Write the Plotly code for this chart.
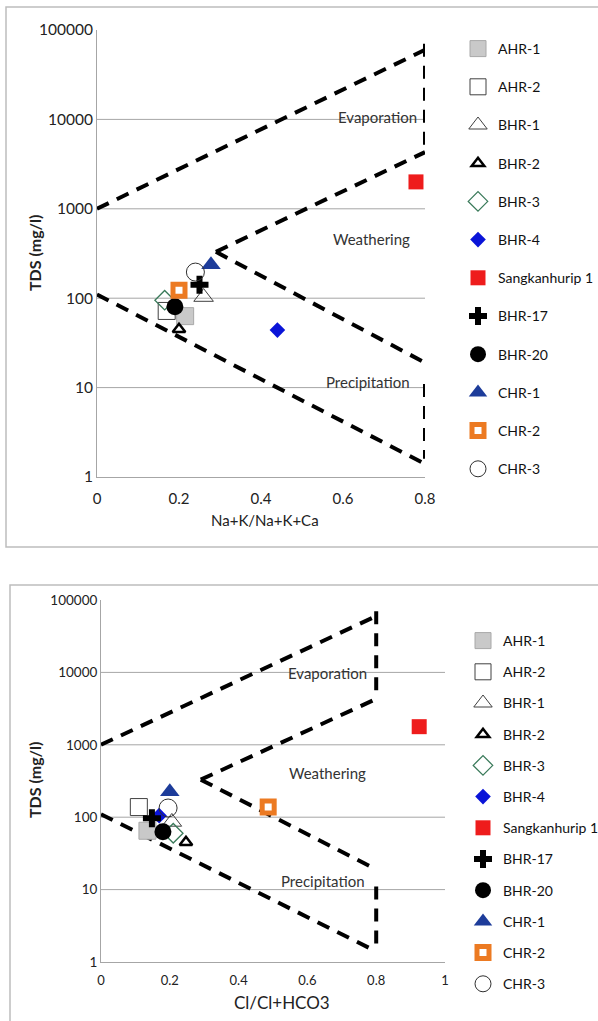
import math
import plotly.graph_objects as go

# ---------------- data ----------------
samples = ["AHR-1", "AHR-2", "BHR-1", "BHR-2", "BHR-3", "BHR-4",
           "Sangkanhurip 1", "BHR-17", "BHR-20", "CHR-1", "CHR-2", "CHR-3"]

# Top diagram: Na+K/(Na+K+Ca) vs TDS
cation_ratio = [0.215, 0.17, 0.26, 0.20, 0.165, 0.44, 0.778, 0.25, 0.19, 0.278, 0.20, 0.24]
tds_cation = [63, 72, 103, 45, 95, 44, 2000, 141, 80, 236, 123, 196]

# Bottom diagram: Cl/(Cl+HCO3) vs TDS
anion_ratio = [0.135, 0.11, 0.206, 0.247, 0.21, 0.169, 0.925, 0.148, 0.18, 0.20, 0.486, 0.195]
tds_anion = [65, 138, 86, 45, 60, 105, 1780, 97, 63, 224, 138, 134]

# Gibbs boundary segments (ratio, TDS)
evap_upper_x = [0.0, 0.8]
evap_upper_tds = [1000, 60000]
evap_right_x = [0.8, 0.8]
evap_right_tds = [70000, 5000]
weath_upper_x = [0.29, 0.8]
weath_upper_tds = [330, 4300]
weath_lower_x = [0.29, 0.8]
weath_lower_tds = [330, 19]
precip_lower_x = [0.0, 0.8]
precip_lower_tds = [110, 1.4]
precip_right_x = [0.8, 0.8]
precip_right_tds = [11, 1.6]

boundaries = [
    (evap_upper_x, evap_upper_tds),
    (evap_right_x, evap_right_tds),
    (weath_upper_x, weath_upper_tds),
    (weath_lower_x, weath_lower_tds),
    (precip_lower_x, precip_lower_tds),
    (precip_right_x, precip_right_tds),
]

y_tickvals = [1, 10, 100, 1000, 10000, 100000]
y_ticktext = ["1", "10", "100", "1000", "10000", "100000"]
grid_levels = [10, 100, 1000, 10000]
x_ticks_top = [0, 0.2, 0.4, 0.6, 0.8]
x_ticktext_top = ["0", "0.2", "0.4", "0.6", "0.8"]
x_ticks_bot = [0, 0.2, 0.4, 0.6, 0.8, 1]
x_ticktext_bot = ["0", "0.2", "0.4", "0.6", "0.8", "1"]

zone_labels = ["Evaporation", "Weathering", "Precipitation"]
zone_x_top = [0.685, 0.67, 0.66]
zone_tds_top = [10700, 460, 11.5]
zone_x_bot = [0.657, 0.657, 0.645]
zone_tds_bot = [9800, 410, 13]

# ---------------- styles ----------------
styles = {
    "AHR-1": dict(symbol="square", size=17, color="#c9c9c9", line=dict(color="#a8a8a8", width=1)),
    "AHR-2": dict(symbol="square-open", size=17, color="#404040", line=dict(color="#404040", width=1)),
    "BHR-1": dict(symbol="triangle-up-open", size=17, color="#404040", line=dict(color="#404040", width=1)),
    "BHR-2": dict(symbol="triangle-up-open", size=11, color="#000000", line=dict(color="#000000", width=2.5)),
    "BHR-3": dict(symbol="diamond-open", size=15, color="#3a7a5a", line=dict(color="#3a7a5a", width=1.3)),
    "BHR-4": dict(symbol="diamond", size=12, color="#0a14d8", line=dict(width=0)),
    "Sangkanhurip 1": dict(symbol="square", size=15, color="#ee1c1c", line=dict(width=0)),
    "BHR-17": dict(symbol="cross", size=15, color="#000000", line=dict(width=0)),
    "BHR-20": dict(symbol="circle", size=17, color="#000000", line=dict(width=0)),
    "CHR-1": dict(symbol="triangle-up", size=17, color="#1d3c9a", line=dict(width=0)),
    "CHR-2": dict(symbol="square", size=12, color="#ffffff", line=dict(color="#ec7a22", width=5)),
    "CHR-3": dict(symbol="circle-open", size=18, color="#303030", line=dict(color="#303030", width=1)),
}

FONT = "Lato, 'Open Sans', sans-serif"
W, H = 598, 1021

fig = go.Figure()

dash_style = dict(color="black", width=4, dash="13px,9px")

# boundaries on both panels
for xa, ya in (("x", "y"), ("x2", "y2")):
    for bx, by in boundaries:
        fig.add_trace(go.Scatter(x=bx, y=by, mode="lines", line=dash_style,
                                 xaxis=xa, yaxis=ya, showlegend=False, hoverinfo="skip"))

# samples
for i, name in enumerate(samples):
    fig.add_trace(go.Scatter(x=[cation_ratio[i]], y=[tds_cation[i]], mode="markers", name=name,
                             marker=styles[name], xaxis="x", yaxis="y", legend="legend",
                             legendgroup="top" + name))
for i, name in enumerate(samples):
    fig.add_trace(go.Scatter(x=[anion_ratio[i]], y=[tds_anion[i]], mode="markers", name=name,
                             marker=styles[name], xaxis="x2", yaxis="y2", legend="legend2",
                             legendgroup="bot" + name))


def px_x(p):
    return p / W


def px_y(p):
    return 1 - p / H


axis_common = dict(showline=True, linecolor="#a6a6a6", linewidth=1, zeroline=False,
                   ticks="", color="#222", automargin=False)

fig.update_layout(
    width=W, height=H, margin=dict(l=0, r=0, t=0, b=0, autoexpand=False),
    paper_bgcolor="white", plot_bgcolor="white",
    font=dict(family=FONT, size=14, color="#222"),
    xaxis=dict(domain=[px_x(97), px_x(425)], range=[0, 0.8], anchor="y",
               tickvals=x_ticks_top, ticktext=x_ticktext_top, showgrid=False,
               tickfont=dict(size=15), ticklabelstandoff=8, **axis_common),
    yaxis=dict(domain=[px_y(477), px_y(30)], type="log", range=[0, 5], anchor="x",
               tickvals=y_tickvals, ticktext=y_ticktext, showgrid=False,
               tickfont=dict(size=15.5), **axis_common),
    xaxis2=dict(domain=[px_x(101), px_x(445)], range=[0, 1], anchor="y2",
                tickvals=x_ticks_bot, ticktext=x_ticktext_bot, showgrid=False,
                tickfont=dict(size=13), ticklabelstandoff=6, **axis_common),
    yaxis2=dict(domain=[px_y(962), px_y(600)], type="log", range=[0, 5], anchor="x2",
                tickvals=y_tickvals, ticktext=y_ticktext, showgrid=False,
                tickfont=dict(size=13.5), **axis_common),
    legend=dict(x=px_x(458), y=px_y(33), xanchor="left", yanchor="top",
                font=dict(size=14, color="#111"), tracegroupgap=17,
                bgcolor="rgba(0,0,0,0)", itemsizing="trace"),
    legend2=dict(x=px_x(463), y=px_y(625), xanchor="left", yanchor="top",
                 font=dict(size=14, color="#111"), tracegroupgap=10,
                 bgcolor="rgba(0,0,0,0)", itemsizing="trace"),
    showlegend=True,
)

shapes = []
# gridlines
for v in grid_levels:
    for xr, yr in (("x domain", "y"), ("x2 domain", "y2")):
        shapes.append(dict(type="line", xref=xr, yref=yr, x0=0, x1=1, y0=v, y1=v,
                           line=dict(color="#a6a6a6", width=1), layer="below"))
# outer boxes
shapes.append(dict(type="rect", xref="paper", yref="paper", x0=px_x(6), x1=px_x(600),
                   y0=px_y(547), y1=px_y(7), line=dict(color="#bdbdbd", width=1.5)))
shapes.append(dict(type="rect", xref="paper", yref="paper", x0=px_x(10), x1=px_x(600),
                   y0=px_y(1025), y1=px_y(585), line=dict(color="#bdbdbd", width=1.5)))
fig.update_layout(shapes=shapes)

ann = []
centered = dict(xanchor="center", yanchor="middle", showarrow=False)
for lab, zx, zt in zip(zone_labels, zone_x_top, zone_tds_top):
    ann.append(dict(text=lab, x=zx, y=math.log10(zt), xref="x", yref="y",
                    font=dict(size=15, color="#333"), **centered))
for lab, zx, zt in zip(zone_labels, zone_x_bot, zone_tds_bot):
    ann.append(dict(text=lab, x=zx, y=math.log10(zt), xref="x2", yref="y2",
                    font=dict(size=15, color="#333"), **centered))
ann.append(dict(text="<b>TDS (mg/l)</b>", x=px_x(34), y=px_y(253), xref="paper", yref="paper",
                textangle=-90, font=dict(size=16, color="#222"), **centered))
ann.append(dict(text="<b>TDS (mg/l)</b>", x=px_x(34), y=px_y(780), xref="paper", yref="paper",
                textangle=-90, font=dict(size=16, color="#222"), **centered))
ann.append(dict(text="Na+K/Na+K+Ca", x=px_x(265), y=px_y(520), xref="paper", yref="paper",
                font=dict(size=15, color="#222"), **centered))
ann.append(dict(text="Cl/Cl+HCO3", x=px_x(282), y=px_y(1002), xref="paper", yref="paper",
                font=dict(size=17, color="#222"), **centered))
fig.update_layout(annotations=ann)

fig.write_html("out.html", config={"displayModeBar": False},
               post_script="document.body.style.margin='0';")
